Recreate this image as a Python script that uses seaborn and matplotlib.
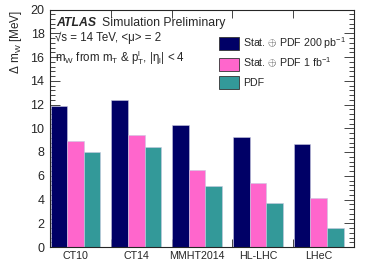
import matplotlib
matplotlib.use("Agg")
import matplotlib.pyplot as plt
import seaborn as sns
import pandas as pd
import numpy as np
from matplotlib.patches import Patch
from matplotlib.ticker import MultipleLocator, FixedLocator

categories = ["CT10", "CT14", "MMHT2014", "HL-LHC", "LHeC"]
stat_200pb = [11.9, 12.4, 10.3, 9.3, 8.7]
stat_1fb = [8.9, 9.4, 6.5, 5.35, 4.1]
pdf_only = [8.0, 8.4, 5.1, 3.7, 1.6]
series = ["Stat. $\\oplus$ PDF 200 pb$^{-1}$", "Stat. $\\oplus$ PDF 1 fb$^{-1}$", "PDF"]
colors = ["#000066", "#ff66cc", "#339999"]

df = pd.DataFrame({
    "cat": categories * 3,
    "val": stat_200pb + stat_1fb + pdf_only,
    "series": [series[0]] * 5 + [series[1]] * 5 + [series[2]] * 5,
})

sns.set_style("ticks")
plt.rcParams["font.family"] = ["Liberation Sans", "DejaVu Sans"]
plt.rcParams["mathtext.fontset"] = "custom"
plt.rcParams["mathtext.rm"] = "Liberation Sans"
plt.rcParams["mathtext.it"] = "Liberation Sans:italic"

W, H = 366, 275
fig = plt.figure(figsize=(W / 100, H / 100), dpi=100)
ax = fig.add_axes([50 / W, 1 - 247 / H, 304 / W, (247 - 9.5) / H])

sns.barplot(data=df, x="cat", y="val", hue="series", palette=colors, width=0.82,
            dodge=True, ax=ax, legend=False, saturation=1, edgecolor="#c8c8e0", linewidth=0.4)

ax.set_xlim(-0.42, 4.58)
ax.set_ylim(0, 20)
ax.set_xlabel("")
ax.set_ylabel("Δ m$_\\mathrm{W}$ [MeV]", fontsize=8.5, loc="top", labelpad=5)
ax.yaxis.set_major_locator(MultipleLocator(2))
ax.yaxis.set_minor_locator(MultipleLocator(0.4))
ax.xaxis.set_minor_locator(FixedLocator([k + 0.58 for k in range(4)]))
ax.tick_params(axis="y", which="both", direction="in", left=True, right=True, labelsize=9, pad=4)
ax.tick_params(axis="y", which="major", length=7, width=0.6)
ax.tick_params(axis="y", which="minor", length=3.5, width=0.6)
ax.tick_params(axis="x", which="major", length=0, labelsize=7.7, pad=3)
ax.tick_params(axis="x", which="minor", direction="in", top=True, bottom=True, length=6, width=0.6)
for s in ax.spines.values():
    s.set_linewidth(0.8)

fig.text(56 / W, 1 - 23 / H, "ATLAS", fontsize=8.8, fontweight="bold", fontstyle="italic", va="center")
fig.text(102 / W, 1 - 23 / H, "Simulation Preliminary", fontsize=8.8, va="center")
fig.text(55 / W, 1 - 37.5 / H, "√s = 14 TeV, <μ> = 2", fontsize=8.3, va="center",
         family=["Liberation Sans", "DejaVu Sans"])
fig.text(55 / W, 1 - 58 / H, "m$_\\mathrm{W}$ from m$_\\mathrm{T}$ & p$_\\mathrm{T}^\\mathrm{l}$, |η$_\\mathrm{l}$| < 4",
         fontsize=8.3, va="center")

handles = [Patch(facecolor=c, edgecolor="#333333", linewidth=0.6) for c in colors]
ax.legend(handles, series, loc="upper left", bbox_to_anchor=(219 / W, 1 - 35 / H),
          bbox_transform=fig.transFigure, frameon=False, fontsize=7.7,
          handlelength=1.85, handleheight=1.5, handletextpad=0.4, labelspacing=0.5,
          borderpad=0, borderaxespad=0)

fig.savefig("out.png", dpi=100)
